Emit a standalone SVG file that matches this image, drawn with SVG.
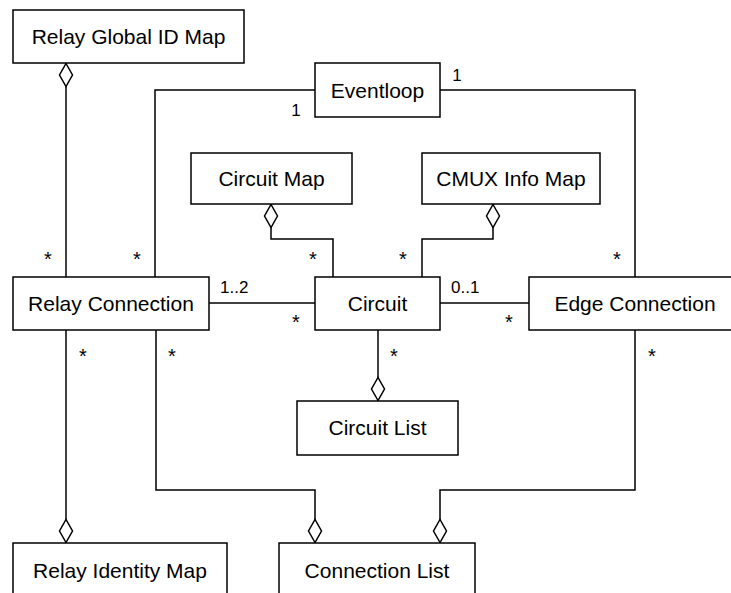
<svg xmlns="http://www.w3.org/2000/svg" width="731" height="593" viewBox="0 0 731 593">
<style>
.box{fill:#fff;stroke:#000;stroke-width:1.5}
.t{font-family:"Liberation Sans",Arial,Helvetica,sans-serif;font-size:21px;text-anchor:middle;fill:#000}
.l{font-family:"Liberation Sans",Arial,Helvetica,sans-serif;font-size:17px;fill:#000}
.s{font-family:"Liberation Sans",Arial,Helvetica,sans-serif;font-size:20px;text-anchor:middle;fill:#000}
.c{fill:none;stroke:#000;stroke-width:1.5}
</style>
<defs>
<marker id="dia" markerUnits="userSpaceOnUse" markerWidth="26" markerHeight="16" refX="0" refY="8" orient="auto" viewBox="0 0 26 16">
<path d="M0.5,8 L12,1.5 L23.5,8 L12,14.5 Z" fill="#fff" stroke="#000" stroke-width="1.5"/>
</marker>
</defs>
<g id="connectors">
<path class="c" d="M66,63 V277" marker-start="url(#dia)"/>
<path class="c" d="M315,90 H155 V277"/>
<path class="c" d="M440,90 H635 V277"/>
<path class="c" d="M271,204 V239 H333 V277" marker-start="url(#dia)"/>
<path class="c" d="M493,204 V239 H422 V277" marker-start="url(#dia)"/>
<path class="c" d="M209,303 H315"/>
<path class="c" d="M440,303 H529"/>
<path class="c" d="M378,401 V330" marker-start="url(#dia)"/>
<path class="c" d="M66,543 V330" marker-start="url(#dia)"/>
<path class="c" d="M315,543 V490 H156 V330" marker-start="url(#dia)"/>
<path class="c" d="M440,543 V490 H635 V330" marker-start="url(#dia)"/>
<g class="l">
<text x="457" y="81" text-anchor="middle">1</text>
<text x="296" y="116" text-anchor="middle">1</text>
<text x="220" y="293">1..2</text>
<text x="451" y="293">0..1</text>
</g>
<g class="s">
<text x="48" y="266">*</text>
<text x="137" y="266">*</text>
<text x="313" y="266">*</text>
<text x="403" y="266">*</text>
<text x="617" y="266">*</text>
<text x="296" y="329">*</text>
<text x="509" y="329">*</text>
<text x="83" y="363">*</text>
<text x="172" y="363">*</text>
<text x="394" y="363">*</text>
<text x="652" y="363">*</text>
</g>
</g>
<g id="relay-global-id-map"><rect class="box" x="13" y="10" width="231" height="53"/><text class="t" x="128.5" y="44">Relay Global ID Map</text></g>
<g id="eventloop"><rect class="box" x="315" y="63" width="125" height="54"/><text class="t" x="377.5" y="97.5">Eventloop</text></g>
<g id="circuit-map"><rect class="box" x="191" y="153" width="161" height="51"/><text class="t" x="271.5" y="186">Circuit Map</text></g>
<g id="cmux-info-map"><rect class="box" x="422" y="153" width="178" height="51"/><text class="t" x="511" y="186">CMUX Info Map</text></g>
<g id="relay-connection"><rect class="box" x="13" y="277" width="196" height="53"/><text class="t" x="111" y="311">Relay Connection</text></g>
<g id="circuit"><rect class="box" x="315" y="277" width="125" height="53"/><text class="t" x="377.5" y="311">Circuit</text></g>
<g id="edge-connection"><rect class="box" x="529" y="277" width="212" height="53"/><text class="t" x="635" y="311">Edge Connection</text></g>
<g id="circuit-list"><rect class="box" x="297" y="401" width="161" height="54"/><text class="t" x="377.5" y="435">Circuit List</text></g>
<g id="relay-identity-map"><rect class="box" x="13" y="543" width="214" height="60"/><text class="t" x="120" y="578">Relay Identity Map</text></g>
<g id="connection-list"><rect class="box" x="279" y="543" width="196" height="60"/><text class="t" x="377" y="578">Connection List</text></g>
</svg>
